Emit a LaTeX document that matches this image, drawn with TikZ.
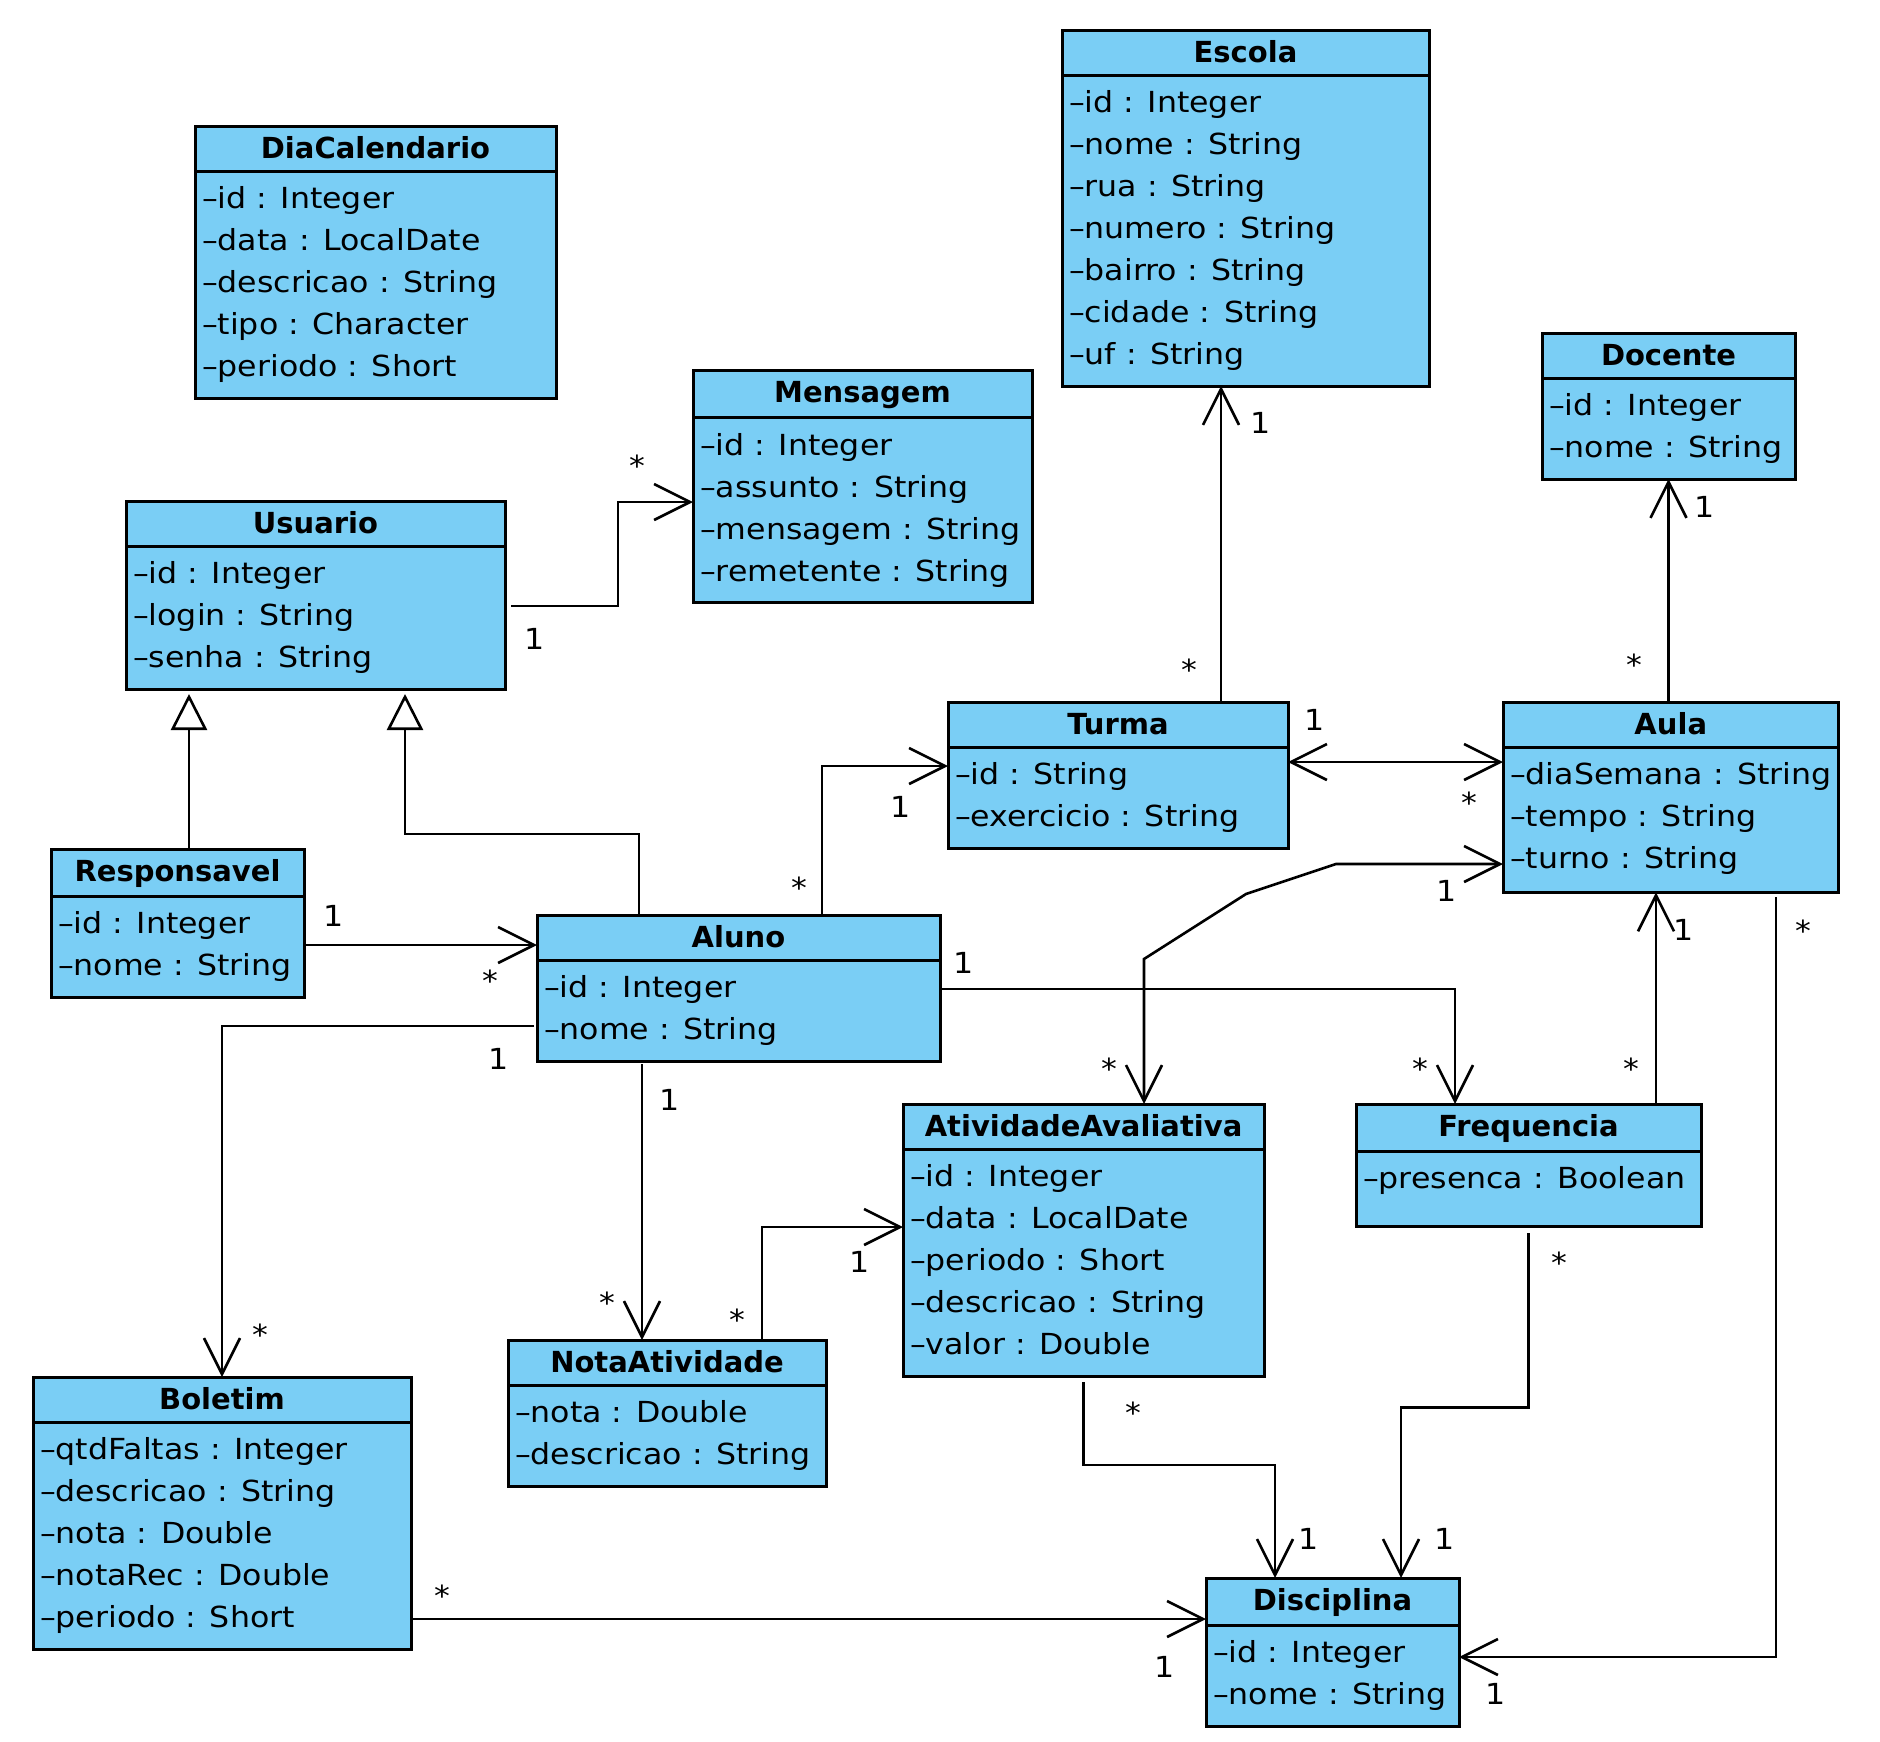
\documentclass[tikz,border=0pt]{standalone}
\usepackage{fontspec}
\setmainfont{DejaVu Sans}
\newfontfamily\attrfont{DejaVu Sans}[FakeStretch=1.09]
\usetikzlibrary{shapes.multipart,arrows.meta}
\definecolor{clsblue}{RGB}{122,206,245}
\newcommand{\clsname}[1]{\rule[-4pt]{0pt}{28pt}\rmfamily\bfseries #1}
\newcommand{\attrline}[1]{\strut–#1}
\tikzset{barb/.tip={Straight Barb[length=36pt,width=36pt]}}

\begin{document}
\begin{tikzpicture}[x=1pt,y=-1pt,
  umlclass/.style={rectangle split, rectangle split parts=2,
    rectangle split part align={center,left}, draw, line width=3pt,
    fill=clsblue, anchor=north west, outer sep=0pt, inner xsep=7pt,
    inner ysep=7pt, align=left, font=\attrfont\fontsize{29}{42}\selectfont},
  assoc/.style={line width=2.6pt, -barb},
  both/.style={line width=2.6pt, barb-barb},
  gen/.style={line width=2.6pt, -{Triangle[open,length=36pt,width=36pt,fill=white]}, shorten >=5pt},
  card/.style={inner sep=0pt, font=\attrfont\fontsize{29}{42}\selectfont},
  many/.style={card, yshift=-6pt}]
\useasboundingbox[fill=white] (0,0) rectangle (1880,1741);

\node[umlclass, minimum width=361] (diacal) at (195,126) {\clsname{DiaCalendario}\nodepart{two}\attrline{id : Integer}\\\attrline{data : LocalDate}\\\attrline{descricao : String}\\\attrline{tipo : Character}\\\attrline{periodo : Short}};
\node[umlclass, minimum width=367] (escola) at (1062,30) {\clsname{Escola}\nodepart{two}\attrline{id : Integer}\\\attrline{nome : String}\\\attrline{rua : String}\\\attrline{numero : String}\\\attrline{bairro : String}\\\attrline{cidade : String}\\\attrline{uf : String}};
\node[umlclass, minimum width=339] (mensagem) at (693,370) {\clsname{Mensagem}\nodepart{two}\attrline{id : Integer}\\\attrline{assunto : String}\\\attrline{mensagem : String}\\\attrline{remetente : String}};
\node[umlclass, minimum width=253] (docente) at (1542,333) {\clsname{Docente}\nodepart{two}\attrline{id : Integer}\\\attrline{nome : String}};
\node[umlclass, minimum width=379] (usuario) at (126,501) {\clsname{Usuario}\nodepart{two}\attrline{id : Integer}\\\attrline{login : String}\\\attrline{senha : String}};
\node[umlclass, minimum width=340] (turma) at (948,702) {\clsname{Turma}\nodepart{two}\attrline{id : String}\\\attrline{exercicio : String}};
\node[umlclass, minimum width=334] (aula) at (1503,702) {\clsname{Aula}\nodepart{two}\attrline{diaSemana : String}\\\attrline{tempo : String}\\\attrline{turno : String}\rule[-15pt]{0pt}{0pt}};
\node[umlclass, minimum width=253] (responsavel) at (51,849) {\clsname{Responsavel}\nodepart{two}\attrline{id : Integer}\\\attrline{nome : String}};
\node[umlclass, minimum width=403] (aluno) at (537,915) {\clsname{Aluno}\nodepart{two}\attrline{id : Integer}\\\attrline{nome : String}};
\node[umlclass, minimum width=361] (ativ) at (903,1104) {\clsname{AtividadeAvaliativa}\nodepart{two}\attrline{id : Integer}\\\attrline{data : LocalDate}\\\attrline{periodo : Short}\\\attrline{descricao : String}\\\attrline{valor : Double}};
\node[umlclass, minimum width=345] (frequencia) at (1356,1104) {\clsname{Frequencia}\nodepart{two}\attrline{presenca : Boolean}\rule[-29pt]{0pt}{0pt}};
\node[umlclass, minimum width=318] (nota) at (508,1340) {\clsname{NotaAtividade}\nodepart{two}\attrline{nota : Double}\\\attrline{descricao : String}};
\node[umlclass, minimum width=378] (boletim) at (33,1377) {\clsname{Boletim}\nodepart{two}\attrline{qtdFaltas : Integer}\\\attrline{descricao : String}\\\attrline{nota : Double}\\\attrline{notaRec : Double}\\\attrline{periodo : Short}};
\node[umlclass, minimum width=253] (disciplina) at (1206,1578) {\clsname{Disciplina}\nodepart{two}\attrline{id : Integer}\\\attrline{nome : String}};

% Usuario - Mensagem
\draw[assoc, shorten <=6pt] ([yshift=-105pt]usuario.north east) -- ++(113,0) |- ([yshift=-132pt]mensagem.north west);
\node[card] (um1) at (535,639) {1};
\node[many] (um2) at (637,460) {*};
% Turma - Escola
\draw[assoc] ([xshift=273pt]turma.north west) -- ([xshift=159pt]escola.south west);
\node[card] (te1) at (1261,423) {1};
\node[many] (te2) at (1189,664) {*};
% Aula - Docente
\draw[assoc] (docente.south |- aula.north) -- (docente.south);
\node[card] (ad1) at (1705,507) {1};
\node[many] (ad2) at (1634,659) {*};
% Turma - Aula
\draw[both] ([yshift=-60pt]turma.north east) -- ([yshift=-60pt]aula.north west);
\node[card] (ta1) at (1315,720) {1};
\node[many] (ta2) at (1469,797) {*};
% Aula - AtividadeAvaliativa
\draw[both] ([yshift=-162pt]aula.north west) -- ++(-167,0) -- ++(-90,30) -- ++(-102,65) -- ([xshift=241pt]ativ.north west);
\node[card] (aa1) at (1447,891) {1};
\node[many] (aa2) at (1109,1063) {*};
% Aluno - Turma
\draw[assoc] ([xshift=285pt]aluno.north west) |- ([yshift=-64pt]turma.north west);
\node[card] (at1) at (901,807) {1};
\node[many] (at2) at (799,882) {*};
% generalizations
\draw[gen] ([xshift=102pt]aluno.north west) -- ++(0,-81) -| ([xshift=279pt]usuario.south west);
\draw[gen] ([xshift=138pt]responsavel.north west) -- ([xshift=63pt]usuario.south west);
% Responsavel - Aluno
\draw[assoc, shorten <=2pt] ([yshift=-96pt]responsavel.north east) -- ([yshift=-30pt]aluno.north west);
\node[card] (ra1) at (334,916) {1};
\node[many] (ra2) at (490,975) {*};
% Aluno - Boletim
\draw[assoc, shorten <=3pt] ([yshift=-111pt]aluno.north west) -| (boletim.north);
\node[card] (ab1) at (499,1059) {1};
\node[many] (ab2) at (260,1329) {*};
% Aluno - NotaAtividade
\draw[assoc, shorten <=3pt] ([xshift=105pt]aluno.south west) -- ([xshift=134pt]nota.north west);
\node[card] (an1) at (670,1100) {1};
\node[many] (an2) at (607,1297) {*};
% NotaAtividade - AtividadeAvaliativa
\draw[assoc] ([xshift=254pt]nota.north west) |- ([yshift=-123pt]ativ.north west);
\node[card] (na1) at (860,1262) {1};
\node[many] (na2) at (737,1314) {*};
% Boletim - Disciplina
\draw[assoc, shorten <=2pt] ([yshift=-242pt]boletim.north east) -- ([yshift=-41pt]disciplina.north west);
\node[card] (bd1) at (1165,1667) {1};
\node[many] (bd2) at (442,1590) {*};
% Aluno - Frequencia
\draw[assoc] ([yshift=-74pt]aluno.north east) -| ([xshift=99pt]frequencia.north west);
\node[card] (af1) at (964,963) {1};
\node[many] (af2) at (1420,1063) {*};
% Frequencia - Aula
\draw[assoc] ([xshift=300pt]frequencia.north west) -- ([xshift=153pt]aula.south west);
\node[card] (fa1) at (1684,930) {1};
\node[many] (fa2) at (1631,1063) {*};
% Aula - Disciplina
\draw[assoc, shorten <=5pt] ([xshift=273pt]aula.south west) |- ([yshift=-79pt]disciplina.north east);
\node[card] (ds1) at (1496,1694) {1};
\node[many] (ds2) at (1803,925) {*};
% AtividadeAvaliativa - Disciplina
\draw[assoc, shorten <=6pt] (ativ.south) -- ++(0,89) -| ([xshift=69pt]disciplina.north west);
\node[card] (vd1) at (1309,1539) {1};
\node[many] (vd2) at (1133,1407) {*};
% Frequencia - Disciplina
\draw[assoc, shorten <=7pt] (frequencia.south) -- ++(0,181) -| ([xshift=195pt]disciplina.north west);
\node[card] (fd1) at (1445,1539) {1};
\node[many] (fd2) at (1559,1257) {*};
\end{tikzpicture}
\end{document}
